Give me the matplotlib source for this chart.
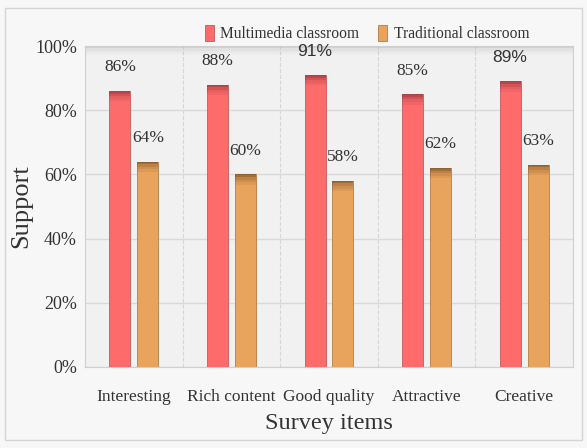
import numpy as np
import matplotlib.pyplot as plt
from matplotlib.patches import Rectangle

categories = ['Interesting', 'Rich content', 'Good quality', 'Attractive', 'Creative']
multimedia = [86, 88, 91, 85, 89]
traditional = [64, 60, 58, 62, 63]
sans_labels = [False, False, True, False, True]  # 91% and 89% are drawn in a sans font

plt.rcParams['font.family'] = 'Liberation Serif'

fig = plt.figure(figsize=(5.87, 4.48), dpi=100, facecolor='#f7f7f7')
fig.patches.append(Rectangle((0.009, 0.018), 0.982, 0.965, transform=fig.transFigure,
                             fill=False, edgecolor='#d4d4d4', linewidth=1.0))
ax = fig.add_axes([0.145, 0.181, 0.831, 0.716])
ax.set_facecolor('#f1f1f1')

x = np.arange(len(categories))
w = 0.215
off = 0.143
red = '#fd6b6b'
ora = '#e8a35d'

ax.bar(x - off, multimedia, w, color=red, edgecolor='#c65a5a', linewidth=0.6, zorder=3,
       label='Multimedia classroom')
ax.bar(x + off, traditional, w, color=ora, edgecolor='#b57d45', linewidth=0.6, zorder=3,
       label='Traditional classroom')
# soft dark shading at the top of each bar
for k, a in enumerate([0.5, 0.32, 0.18, 0.08]):
    ax.bar(x - off, [0.8] * len(x), w, bottom=np.array(multimedia) - 0.8 * (k + 1),
           color='#7a2430', alpha=a, linewidth=0, zorder=4)
    ax.bar(x + off, [0.8] * len(x), w, bottom=np.array(traditional) - 0.8 * (k + 1),
           color='#5e3a14', alpha=a, linewidth=0, zorder=4)
# shadow band under the top edge of the plot area
for k, a in enumerate([0.25, 0.15, 0.08, 0.03]):
    ax.axhspan(100 - 0.7 * (k + 1), 100 - 0.7 * k, color='#888888', alpha=a, linewidth=0, zorder=2)

for i in range(len(x)):
    fam = 'Liberation Sans' if sans_labels[i] else 'Liberation Serif'
    ax.annotate(f'{multimedia[i]}%', (x[i] - off, multimedia[i]), xytext=(0, 17),
                textcoords='offset points', ha='center', va='center', fontsize=12.5,
                family=fam, color='#333333')
    ax.annotate(f'{traditional[i]}%', (x[i] + off, traditional[i]), xytext=(0, 17),
                textcoords='offset points', ha='center', va='center', fontsize=12.5,
                color='#333333')

ax.set_xlim(-0.5, len(x) - 0.5)
ax.set_ylim(0, 100)
ax.set_yticks(np.arange(0, 101, 20))
ax.set_yticklabels([f'{v}%' for v in range(0, 101, 20)], fontsize=13, color='#333333')
ax.set_xticks(x)
ax.set_xticklabels(categories, fontsize=12.5, color='#333333')
ax.tick_params(length=0, pad=16, axis='x')
ax.tick_params(length=0, pad=6, axis='y')

ax.yaxis.grid(True, color='#d9d9d9', linewidth=1.0, zorder=0)
for b in np.arange(0.5, len(x) - 0.5, 1):
    ax.axvline(b, color='#d6d6d6', linestyle='--', linewidth=0.8, zorder=1)
for s in ax.spines.values():
    s.set_color('#cfcfcf')

ax.set_ylabel('Support', fontsize=19, color='#333333', labelpad=2)
ax.set_xlabel('Survey items', fontsize=17.5, color='#333333', labelpad=6)

fig.legend(loc='center', bbox_to_anchor=(0.625, 0.925), ncol=2, frameon=False, fontsize=11.2,
           handlelength=0.6, handleheight=1.2, handletextpad=0.4, columnspacing=1.2,
           labelcolor='#333333')

plt.savefig('out.png', dpi=100, facecolor=fig.get_facecolor())
